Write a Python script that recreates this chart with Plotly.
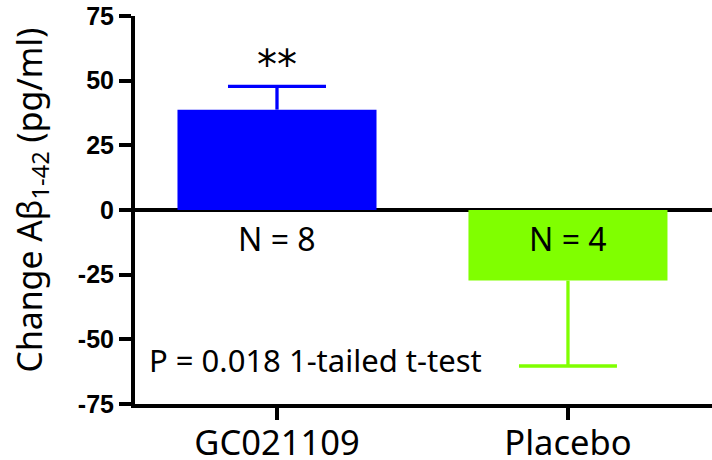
import plotly.graph_objects as go

categories = ["GC021109", "Placebo"]
means = [38.8, -27.3]
err_plus = [9.0, 0.0]
err_minus = [0.0, 33.0]
colors = ["#0000FF", "#80FF00"]
n_labels = ["N = 8", "N = 4"]
y_ticks = [-75, -50, -25, 0, 25, 50, 75]
y_tick_text = ["-75", "-50", "-25", "0", "25", "50", "75"]

fig = go.Figure()
for i in range(2):
    # bar with the error stem only (no caps)
    fig.add_trace(go.Bar(
        x=[categories[i]], y=[means[i]], width=0.684,
        marker=dict(color=colors[i], line=dict(width=0)),
        error_y=dict(type="data", symmetric=False, array=[err_plus[i]],
                     arrayminus=[err_minus[i]], color=colors[i],
                     thickness=3.3, width=0),
        showlegend=False, hoverinfo="skip",
    ))
for i in range(2):
    # cap at the far end of the error bar
    fig.add_trace(go.Scatter(
        x=[categories[i]], y=[means[i] + err_plus[i] - err_minus[i]],
        mode="markers", marker=dict(size=1, opacity=0),
        error_y=dict(type="data", array=[0], color=colors[i],
                     thickness=3.3, width=49),
        showlegend=False, hoverinfo="skip",
    ))

fig.add_annotation(x=categories[0], y=56, text="**",
                   showarrow=False, yanchor="middle",
                   font=dict(family="DejaVu Sans", size=40, color="black"))
for i in range(2):
    fig.add_annotation(x=categories[i], y=-11, text=n_labels[i],
                       showarrow=False, yanchor="middle",
                       font=dict(family="Noto Sans", size=32, color="black"))
fig.add_annotation(xref="paper", x=0.021, y=-58, text="P = 0.018 1-tailed t-test",
                   showarrow=False, xanchor="left", yanchor="middle",
                   font=dict(family="Noto Sans", size=31, color="black"))
fig.add_annotation(xref="paper", yref="paper", x=-0.181, y=0.526,
                   text="Change Aβ<sub>1-42</sub> (pg/ml)", textangle=-90,
                   showarrow=False, xanchor="center", yanchor="middle",
                   font=dict(family="Noto Sans", size=33.8, color="black"))

fig.update_layout(
    width=712, height=460,
    margin=dict(l=135, r=0, t=16, b=56, pad=0, autoexpand=False),
    paper_bgcolor="white", plot_bgcolor="white",
    barmode="overlay",
    xaxis=dict(range=[-0.488, 1.495], showline=True, linecolor="black", linewidth=4,
               ticks="outside", ticklen=12, tickwidth=4, tickcolor="black",
               showgrid=False, layer="above traces", automargin=False,
               ticklabelstandoff=-6,
               tickfont=dict(family="Noto Sans", size=34.5, color="black")),
    yaxis=dict(range=[-75, 75], tickvals=y_ticks, ticktext=y_tick_text,
               showline=True, linecolor="black", automargin=False,
               linewidth=4, ticks="outside", ticklen=12, tickwidth=4, tickcolor="black",
               showgrid=False, zeroline=True, zerolinecolor="black", zerolinewidth=4,
               layer="above traces",
               tickfont=dict(family="Liberation Sans", size=25, color="black", weight="bold")),
)

fig.write_html("out.html", config={"displayModeBar": False},
               post_script="document.body.style.margin='0';")
